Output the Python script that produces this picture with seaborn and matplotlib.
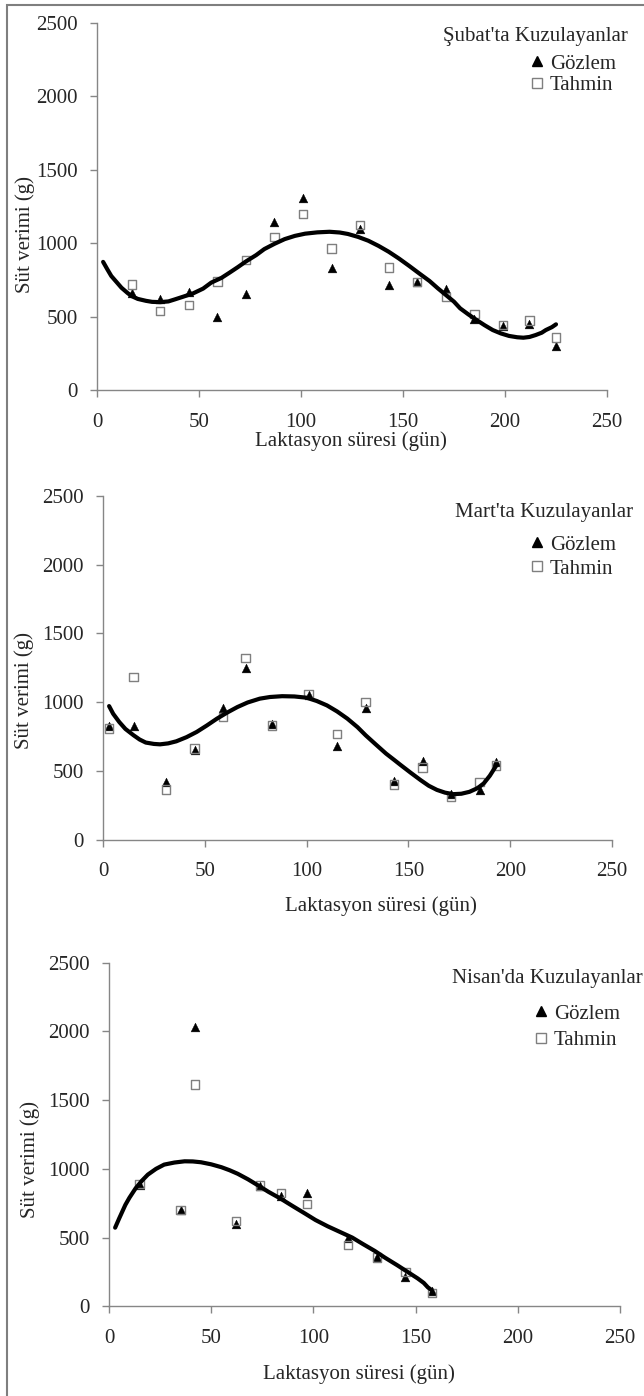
import matplotlib
matplotlib.use('Agg')
import matplotlib.pyplot as plt
from matplotlib.lines import Line2D
from matplotlib.patches import Rectangle
import seaborn as sns

# Şubat'ta kuzulayanlar
subat_gun = [17, 31, 45, 59, 73, 87, 101, 115, 129, 143, 157, 171, 185, 199, 212, 225]
subat_gozlem = [665, 620, 670, 500, 655, 1145, 1310, 830, 1100, 715, 735, 690, 485, 435, 450, 300]
subat_tahmin = [720, 540, 580, 740, 885, 1045, 1200, 965, 1125, 835, 735, 635, 520, 445, 475, 360]
subat_egri_gun = [3, 5, 7, 10, 12, 15, 17, 20, 24, 27, 31, 35, 38, 42, 47, 52, 56, 61, 65, 69, 73,
                  78, 82, 87, 92, 97, 102, 108, 114, 119, 123, 128, 133, 138, 143, 148, 153, 158,
                  163, 167, 171, 175, 178, 182, 186, 190, 194, 198, 202, 206, 209, 212, 215,
                  218, 220, 223, 225]
subat_egri = [874, 825, 778, 730, 698, 662, 641, 622, 609, 602, 600, 605, 618, 636, 659, 692, 733,
              765, 801, 838, 877, 920, 961, 997, 1029, 1051, 1066, 1075, 1079, 1074, 1064, 1044,
              1018, 983, 943, 897, 847, 795, 744, 695, 649, 603, 558, 517, 479, 443, 410, 387,
              370, 361, 358, 363, 376, 392, 410, 430, 449]

# Mart'ta kuzulayanlar
mart_gun = [3, 15, 31, 45, 59, 70, 83, 101, 115, 129, 143, 157, 171, 185, 193]
mart_gozlem = [825, 825, 420, 650, 957, 1250, 838, 1050, 680, 957, 425, 575, 330, 360, 565]
mart_tahmin = [807, 1180, 365, 662, 890, 1320, 830, 1060, 770, 1000, 400, 525, 310, 420, 540]
mart_egri_gun = [3, 5, 8, 11, 15, 18, 21, 25, 28, 32, 36, 41, 46, 51, 56, 61, 66, 71, 77, 82, 88,
                 94, 100, 105, 110, 115, 120, 125, 129, 134, 139, 143, 146, 151, 156, 160, 164,
                 168, 172, 176, 180, 184, 187, 190, 193]
mart_egri = [971, 915, 855, 805, 759, 728, 706, 696, 693, 700, 715, 745, 783, 830, 880, 924, 964,
             997, 1025, 1037, 1043, 1041, 1032, 1008, 976, 932, 880, 818, 759, 692, 626, 580, 545,
             488, 433, 392, 362, 342, 331, 334, 348, 375, 409, 465, 535]

# Nisan'da kuzulayanlar
nisan_gun = [15, 35, 42, 62, 74, 84, 97, 117, 131, 145, 158]
nisan_gozlem = [885, 698, 2030, 596, 872, 800, 823, 500, 360, 210, 110]
nisan_tahmin = [891, 702, 1615, 620, 879, 825, 746, 444, 355, 251, 95]
nisan_egri_gun = [3, 5, 8, 10, 13, 16, 19, 23, 27, 32, 37, 41, 45, 50, 55, 59, 63, 68, 73, 78, 84,
                  90, 96, 101, 107, 113, 119, 124, 130, 135, 141, 146, 151, 154, 156, 158]
nisan_egri = [572, 640, 738, 790, 858, 912, 958, 1000, 1031, 1046, 1055, 1054, 1048, 1033, 1012,
              990, 964, 924, 879, 833, 783, 728, 674, 628, 582, 541, 500, 455, 403, 354, 299, 251,
              203, 170, 138, 116]

sns.set_style('ticks')
plt.rcParams['font.family'] = ['Liberation Serif', 'DejaVu Serif']
plt.rcParams['font.size'] = 15

GRI = '#868686'
W, H = 644, 1396

fig = plt.figure(figsize=(W / 100, H / 100), dpi=100)


def panel(px, gun, gozlem, tahmin, egri_gun, egri, baslik, baslik_xy, leg_xy, spacing,
          ylab_xy, xlab_xy):
    left, top, right, bottom = px
    ax = fig.add_axes([left / W, 1 - bottom / H, (right - left) / W, (bottom - top) / H])
    sns.scatterplot(x=gun, y=gozlem, marker='^', s=40, color='black', edgecolor='black',
                    linewidth=0.3, ax=ax, zorder=3)
    sns.scatterplot(x=gun, y=tahmin, marker='s', s=36, facecolors='none', edgecolor='#7f7f7f',
                    linewidth=1.0, ax=ax, zorder=4)
    sns.lineplot(x=egri_gun, y=egri, color='black', linewidth=3, errorbar=None, ax=ax, zorder=5)

    ax.set_xlim(0, 250)
    ax.set_ylim(0, 2500)
    ax.set_xticks(range(0, 251, 50))
    ax.set_yticks(range(0, 2501, 500))
    sns.despine(ax=ax)
    for s in ['left', 'bottom']:
        ax.spines[s].set_color(GRI)
        ax.spines[s].set_linewidth(1)
    ax.tick_params(axis='y', length=5, width=1, color=GRI, pad=9, labelsize=15)
    ax.tick_params(axis='x', length=5, width=1, color=GRI, pad=11, labelsize=15)

    ax.set_ylabel('Süt verimi (g)', fontsize=15)
    ax.set_xlabel('Laktasyon süresi (gün)', fontsize=15)
    ax.yaxis.set_label_coords(*ylab_xy)
    ax.xaxis.set_label_coords(*xlab_xy)

    fig.text(baslik_xy[0] / W, 1 - baslik_xy[1] / H, baslik, ha='left', va='center',
             fontsize=15)
    handles = [Line2D([], [], marker='^', ls='none', color='black', markersize=7),
               Line2D([], [], marker='s', ls='none', mfc='none', mec='#7f7f7f',
                      markersize=6.5, mew=1)]
    ax.legend(handles, ['Gözlem', 'Tahmin'], loc='upper left',
              bbox_to_anchor=(leg_xy[0] / W, 1 - leg_xy[1] / H), bbox_transform=fig.transFigure,
              frameon=False, handlelength=0.6, handletextpad=0.3, borderpad=0,
              borderaxespad=0, labelspacing=spacing, fontsize=15)
    return ax


panel((97, 23, 607, 390.3), subat_gun, subat_gozlem, subat_tahmin, subat_egri_gun, subat_egri,
      "Şubat'ta Kuzulayanlar", (443, 37), (531, 54), 0.08, (-0.121, 0.423), (0.498, -0.112))
panel((103, 495.7, 612, 839.7), mart_gun, mart_gozlem, mart_tahmin, mart_egri_gun, mart_egri,
      "Mart'ta Kuzulayanlar", (455, 513), (531, 535), 0.22, (-0.136, 0.435), (0.546, -0.163))
panel((109, 962.7, 620, 1306.3), nisan_gun, nisan_gozlem, nisan_tahmin, nisan_egri_gun, nisan_egri,
      "Nisan'da Kuzulayanlar", (452, 978), (535, 1004), 0.32, (-0.136, 0.426), (0.49, -0.169))

# dış çerçeve
fig.add_artist(Rectangle((7 / W, -0.1), 1.2, 1.1 - 5 / H, transform=fig.transFigure,
                         fill=False, edgecolor='#7f7f7f', linewidth=1.5, clip_on=False))

fig.savefig('out.png', dpi=100)
